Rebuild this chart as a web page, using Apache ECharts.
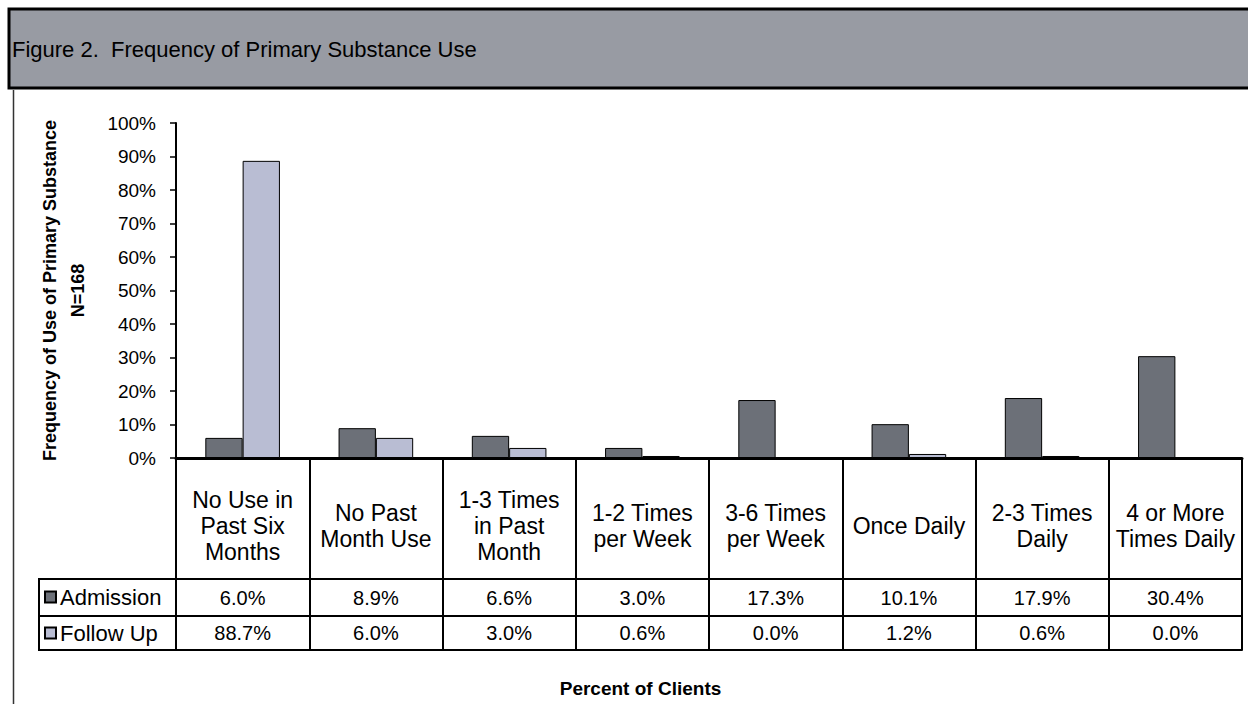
<!DOCTYPE html>
<html>
<head>
<meta charset="utf-8">
<title>Frequency of Primary Substance Use</title>
<script src="https://cdn.jsdelivr.net/npm/echarts@6/dist/echarts.min.js"></script>
<style>
  html, body { margin: 0; padding: 0; background: #ffffff; }
  #chart { width: 1248px; height: 704px; }
</style>
</head>
<body>
<div id="chart"></div>
<script>
// Frequency categories (line breaks as shown in the table header row)
const categories = [
  'No Use in\nPast Six\nMonths',
  'No Past\nMonth Use',
  '1-3 Times\nin Past\nMonth',
  '1-2 Times\nper Week',
  '3-6 Times\nper Week',
  'Once Daily',
  '2-3 Times\nDaily',
  '4 or More\nTimes Daily'
];
const seriesNames = ['Admission', 'Follow Up'];
// Percent of clients (N=168)
const admission = [6.0, 8.9, 6.6, 3.0, 17.3, 10.1, 17.9, 30.4];
const followUp = [88.7, 6.0, 3.0, 0.6, 0.0, 1.2, 0.6, 0.0];
// Value axis ticks
const yMin = 0, yMax = 100, yStep = 10;

const FONT = '"Liberation Sans", Arial, Helvetica, sans-serif';
const colors = ['#6c7078', '#b9bdd3'];

// Layout of the plot and of the data table beneath it
const W = 1248, H = 704;
const plotLeft = 176, plotRight = 1242, plotTop = 123, plotBottom = 458;
const catRowH = 121, admRowH = 37, fuRowH = 34;
const rowLine1 = plotBottom + catRowH;            // under category row
const rowLine2 = rowLine1 + admRowH;               // under Admission row
const rowLine3 = rowLine2 + fuRowH;                // table bottom
const legendCellLeft = 39;

const chart = echarts.init(document.getElementById('chart'), null, { renderer: 'svg' });

const tableLine = { color: '#000', width: 2 };

const option = {
  animation: false,
  title: {
    text: 'Figure 2.  Frequency of Primary Substance Use',
    left: 12, top: 38, padding: 0,
    textStyle: { fontFamily: FONT, fontSize: 22, fontWeight: 'normal', color: '#000' }
  },
  legend: {
    data: seriesNames,
    orient: 'vertical',
    left: 44, top: rowLine1 + 7, padding: 0,
    itemWidth: 11, itemHeight: 11, itemGap: 14,
    icon: 'rect',
    textStyle: { fontFamily: FONT, fontSize: 22, color: '#000', lineHeight: 22, padding: [0, 0, 0, -1] }
  },
  grid: {
    left: plotLeft, right: W - plotRight, top: plotTop, bottom: H - plotBottom,
    containLabel: false
  },
  xAxis: [
    {
      type: 'category', data: categories, position: 'bottom',
      axisLine: { lineStyle: { color: '#000', width: 3 } },
      axisTick: { show: true, interval: 0, length: rowLine3 - plotBottom, lineStyle: tableLine },
      axisLabel: {
        interval: 0, margin: 68, verticalAlign: 'middle',
        fontFamily: FONT, fontSize: 23, lineHeight: 26, color: '#000', align: 'center'
      }
    },
    {
      type: 'category', data: categories, position: 'bottom', offset: catRowH,
      axisLine: { lineStyle: tableLine },
      axisTick: { show: false },
      axisLabel: {
        interval: 0, margin: admRowH / 2, verticalAlign: 'middle',
        fontFamily: FONT, fontSize: 20, color: '#000',
        formatter: (v, i) => admission[i].toFixed(1) + '%'
      }
    },
    {
      type: 'category', data: categories, position: 'bottom', offset: catRowH + admRowH,
      axisLine: { lineStyle: tableLine },
      axisTick: { show: false },
      axisLabel: {
        interval: 0, margin: fuRowH / 2, verticalAlign: 'middle',
        fontFamily: FONT, fontSize: 20, color: '#000',
        formatter: (v, i) => followUp[i].toFixed(1) + '%'
      }
    },
    {
      type: 'category', data: categories, position: 'bottom', offset: catRowH + admRowH + fuRowH,
      axisLine: { lineStyle: tableLine },
      axisTick: { show: false },
      axisLabel: { show: false }
    }
  ],
  yAxis: {
    type: 'value', min: yMin, max: yMax, interval: yStep,
    name: 'Frequency of Use of Primary Substance\nN=168',
    nameLocation: 'middle', nameRotate: 90, nameGap: 84,
    nameTextStyle: { fontFamily: FONT, fontSize: 18, fontWeight: 'bold', color: '#000', lineHeight: 28 },
    axisLine: { show: true, lineStyle: { color: '#000', width: 2 } },
    axisTick: { show: true, length: 6, lineStyle: { color: '#000', width: 1.5 } },
    axisLabel: { margin: 20, fontFamily: FONT, fontSize: 19, color: '#000', formatter: '{value}%' },
    splitLine: { show: false }
  },
  series: [
    {
      name: seriesNames[0], type: 'bar', data: admission,
      barGap: '0%', barCategoryGap: '44%',
      itemStyle: { color: colors[0], borderColor: '#000', borderWidth: 1 }
    },
    {
      name: seriesNames[1], type: 'bar', data: followUp,
      barGap: '0%', barCategoryGap: '44%',
      itemStyle: { color: colors[1], borderColor: '#000', borderWidth: 1 }
    }
  ],
  graphic: [
    // header band
    {
      type: 'rect', z: 0,
      shape: { x: 9, y: 9, width: W + 10, height: 79 },
      style: { fill: '#989ba3', stroke: '#000', lineWidth: 3 }
    },
    // left frame edge below the header
    {
      type: 'line',
      shape: { x1: 13.5, y1: 90, x2: 13.5, y2: H },
      style: { stroke: '#333', lineWidth: 1.5 }
    },
    // legend cells of the data table
    {
      type: 'line',
      shape: { x1: legendCellLeft, y1: rowLine1, x2: legendCellLeft, y2: rowLine3 },
      style: { stroke: '#000', lineWidth: 2 }
    },
    {
      type: 'line',
      shape: { x1: legendCellLeft - 1, y1: rowLine1, x2: plotLeft, y2: rowLine1 },
      style: { stroke: '#000', lineWidth: 2 }
    },
    {
      type: 'line',
      shape: { x1: legendCellLeft - 1, y1: rowLine2, x2: plotLeft, y2: rowLine2 },
      style: { stroke: '#000', lineWidth: 2 }
    },
    {
      type: 'line',
      shape: { x1: legendCellLeft - 1, y1: rowLine3, x2: plotLeft, y2: rowLine3 },
      style: { stroke: '#000', lineWidth: 2 }
    },
    // horizontal axis title
    {
      type: 'text',
      x: (legendCellLeft + plotRight) / 2, y: 688,
      style: {
        text: 'Percent of Clients', align: 'center', verticalAlign: 'middle',
        font: 'bold 19px ' + FONT, fill: '#000'
      }
    }
  ]
};

chart.setOption(option);
</script>
</body>
</html>
